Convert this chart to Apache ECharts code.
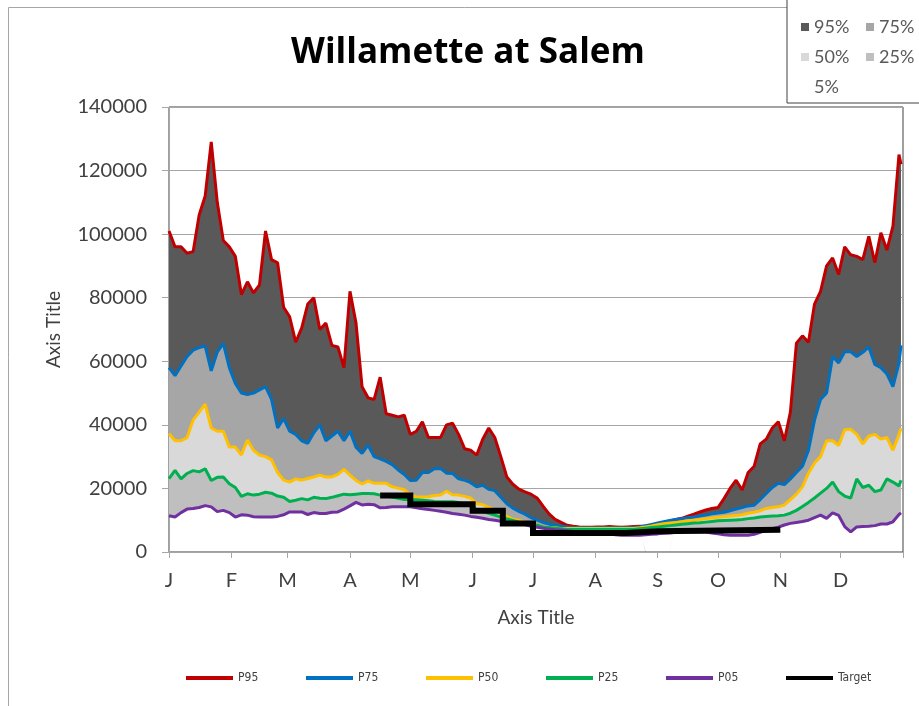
<!DOCTYPE html>
<html>
<head>
<meta charset="utf-8">
<script src="https://cdn.jsdelivr.net/npm/echarts@6/dist/echarts.min.js"></script>
<style>html,body{margin:0;padding:0;background:#fff}#c{width:919px;height:706px}</style>
</head>
<body>
<div id="c"></div>
<script>
// Day of year (0 = Jan 1) for each sample
const days = [0,3,6,9,12,15,18,21,24,27,30,33,36,39,42,45,48,51,54,57,60,63,66,69,72,75,78,81,84,87,90,93,96,99,102,105,108,111,114,117,
120,123,126,129,132,135,138,141,144,147,150,153,156,159,162,165,168,171,174,177,180,183,186,189,192,195,198,201,204,207,210,213,216,219,222,225,228,231,
234,237,240,243,246,249,252,255,258,261,264,267,270,273,
276,279,282,285,288,291,294,297,300,303,306,309,312,315,318,321,324,327,330,333,336,339,342,345,348,351,354,357,360,363,364];

const p95 = [101000,96000,96000,94000,94500,106000,112000,129000,110000,98000,96000,93000,81000,85000,81500,84000,101000,92000,91000,77000,74000,66000,70500,78000,80000,70000,72000,65000,64500,58000,82000,72000,52000,48500,48000,55000,43500,43000,42500,43000,
37000,38000,41000,36000,36000,36000,40000,40500,37000,32500,32000,30500,35500,39000,36000,30000,23600,21300,19800,18900,18200,17000,14400,12000,10300,9300,8400,8100,7900,7800,7800,7900,7900,8000,7900,7800,7900,8000,
8100,8100,8400,8900,9300,9800,10200,10600,11300,11900,12600,13200,13700,14000,
16800,20000,22600,19500,25000,27000,34000,35500,39000,41000,35000,44000,65700,68000,66000,78000,82000,90000,92500,87300,96000,93500,93000,92000,99300,91000,100400,95000,102500,125000,122000];

const p75 = [58000,55500,58500,61500,63500,64300,64800,57000,62900,65600,58000,53000,50000,49500,50000,51000,52000,48000,39000,42000,38000,37000,35000,34200,37500,40000,35000,36500,38000,35000,38000,33000,31000,33600,30000,29300,28500,27500,25800,24400,
22500,22600,25000,25000,26200,26300,24800,24700,23000,22600,21800,20500,21000,19700,19300,17200,15200,13800,12800,11900,10800,10000,9300,8800,8300,8100,7900,7700,7700,7700,7700,7700,7700,7700,7700,7700,7700,7800,
7900,8300,8700,9100,9500,9900,10200,10500,10800,11000,11300,11600,12000,12300,
12500,13000,13500,14000,14500,14700,16500,18400,20300,21600,21200,23000,25000,27000,32000,41500,48000,50000,61500,59500,63000,63000,61500,62800,64500,59000,58000,56000,52000,59400,65000];

const p50 = [37300,35000,35000,36000,41500,44000,46500,39000,38000,38000,33000,33000,30500,35200,32000,30500,30000,29000,25000,22600,22000,23000,22600,23100,23600,24200,23600,23600,24400,26000,24200,22500,21400,22400,21600,21600,21600,20500,20100,19600,
18000,17300,17300,17400,17800,17900,19100,18000,17900,17500,17000,15200,14900,14000,13300,12200,11200,10300,9900,9400,8900,8400,7900,7700,7600,7400,7400,7400,7400,7400,7400,7400,7400,7400,7400,7400,7400,7400,
7600,7900,8200,8600,8900,9100,9300,9500,9800,10000,10200,10500,10700,10900,
11100,11300,11500,11700,12200,12500,13000,13700,14000,14200,14800,16500,18200,20500,24800,28000,30000,35000,35000,33500,38500,38600,37000,34000,36500,37000,35500,36000,32000,37000,38900];

const p25 = [23100,25700,23000,24700,25600,25200,26200,22500,23500,23600,21500,20300,17500,18300,17900,18200,18800,18500,17600,17200,15900,16300,16800,16400,17200,16900,16800,17200,17700,18200,18000,18200,18400,18400,18300,17900,17500,17300,16900,16500,
16600,16400,16300,16100,15900,15800,15800,15800,15600,15100,14800,13300,12700,12200,11600,11000,10400,9900,9400,9000,8600,8400,7900,7700,7500,7300,7100,7100,7100,7100,7100,7100,7100,7100,7100,7100,7100,7100,
7300,7500,7700,7900,8100,8300,8500,8700,8900,9100,9200,9400,9600,9800,
9900,10000,10100,10200,10500,10700,11000,11200,11300,11400,11600,12200,13100,14300,15600,17000,18500,20000,22000,19000,17600,17000,23000,20300,21000,19000,19500,23000,22000,20800,22600];

const p05 = [11400,11000,12400,13500,13700,14000,14600,14200,12700,13100,12400,11000,11700,11600,11100,11000,11000,11000,11200,11700,12600,12600,12600,11800,12400,12100,12100,12500,12600,13500,14500,15600,14800,15000,14900,13900,14000,14200,14200,14200,
14200,13900,13600,13400,13100,12800,12500,12100,11900,11600,11200,10900,10600,10200,10000,9700,9400,9100,8900,8600,8100,7800,7500,7200,7000,6900,6700,6500,6400,6300,6200,6100,6000,5800,5400,5300,5300,5300,
5300,5400,5600,5700,5900,6000,6200,6300,6300,6300,6300,6300,6000,5700,
5400,5300,5300,5300,5300,5600,6200,6800,7300,7800,8500,9000,9300,9600,10000,10800,11600,10600,12300,11500,8000,6300,7900,8000,8100,8300,8800,8800,9500,11800,12300];

// Flow target (step function, each value holds until the next change day)
const targetDays = [105,120,151,166,181,212,227,243,304];
const targetFlow = [17800,15000,13000,9000,6000,6000,6500,7000,7000];

const monthStarts = [0,31,59,90,120,151,181,212,243,273,304,334];
const monthLabels = ['J','F','M','A','M','J','J','A','S','O','N','D'];
const yTicks = [0,20000,40000,60000,80000,100000,120000,140000];

const bandNames = ['5%','25%','50%','75%','95%'];          // stacking order, bottom to top
const bandLegend = ['95%','75%','50%','25%','5%'];         // legend order
const lineNames = ['P95','P75','P50','P25','P05','Target'];

// ---- build ----
const FONT = 'Lato, "Open Sans", sans-serif';
const bandColors = ['rgba(0,0,0,0)','#bfbfbf','#d9d9d9','#a6a6a6','#595959'];
const lineColors = ['#c00000','#0070c0','#ffc000','#00b050','#7030a0','#000000'];
function diff(a,b){ return a.map((v,i)=>v-b[i]); }
const bandData = [p05, diff(p25,p05), diff(p50,p25), diff(p75,p50), diff(p95,p75)];
const lineData = [p95,p75,p50,p25,p05];

const series = [];
bandNames.forEach((name,i)=>{
  series.push({
    name, type:'line', stack:'bands', symbol:'none', silent:true, z:1,
    data: days.map((d,j)=>[bandData[i][j], d]),   // [y, x] so y is the stacked dim
    encode:{x:1, y:0},
    lineStyle:{width:0},
    itemStyle:{color: bandColors[i]},
    areaStyle:{color: bandColors[i], opacity:1}
  });
});
lineData.forEach((arr,i)=>{
  series.push({
    name: lineNames[i], type:'line', symbol:'none', silent:true, z:3,
    data: days.map((d,j)=>[d, arr[j]]),
    itemStyle:{color: lineColors[i]},
    lineStyle:{color: lineColors[i], width:3}
  });
});
series.push({
  name:'Target', type:'line', symbol:'none', silent:true, z:4, step:'end',
  data: targetDays.map((d,j)=>[d, targetFlow[j]]),
  itemStyle:{color:'#000'},
  lineStyle:{color:'#000', width:6, cap:'butt', join:'miter'}
});

const chart = echarts.init(document.getElementById('c'), null, {renderer:'canvas'});
chart.setOption({
  animation:false,
  backgroundColor:'#fff',
  textStyle:{fontFamily:FONT},
  graphic:[{type:'rect', z:0, silent:true, shape:{x:8.5,y:7.5,width:1200,height:1200}, style:{fill:'none', stroke:'#a6a6a6', lineWidth:1}}],
  title:{text:'Willamette at Salem', left:468, top:36, textAlign:'center', padding:0,
    textStyle:{fontFamily:'"Open Sans", Lato, sans-serif', fontWeight:'bold', fontSize:35, color:'#000'}},
  legend:[
    {data: bandLegend, left:787, top:-1, orient:'horizontal', width:120,
     padding:[18,20,6,14], itemGap:10, itemWidth:8, itemHeight:8, icon:'rect',
     backgroundColor:'#fff', borderColor:'#404040', borderWidth:1, selectedMode:false, z:10,
     formatter:'{a|{name}}',
     textStyle:{fontFamily:FONT, fontSize:18, color:'#595959',
       rich:{a:{fontFamily:FONT, fontSize:18, color:'#595959', width:42, height:20, lineHeight:20}}}},
    {data: lineNames, left:186, top:671, orient:'horizontal', padding:0, itemGap:0,
     itemWidth:47, itemHeight:4, icon:'rect', selectedMode:false,
     formatter:'{a|{name}}',
     textStyle:{fontSize:12, color:'#404040',
       rich:{a:{fontFamily:'"DejaVu Sans Condensed", "Liberation Sans Narrow", sans-serif', fontSize:12, color:'#404040', width:68, height:14, lineHeight:14}}}}
  ],
  grid:{left:169, right:16, top:107, bottom:154, containLabel:false, outerBoundsMode:'none',
    show:true, borderColor:'#404040', borderWidth:1, backgroundColor:'transparent'},
  xAxis:{type:'value', min:0, max:365,
    name:'Axis Title', nameLocation:'middle', nameGap:56,
    nameTextStyle:{fontFamily:FONT, fontSize:19, color:'#404040'},
    axisLine:{show:true, onZero:false, lineStyle:{color:'#a6a6a6', width:1}},
    axisTick:{show:true, customValues: monthStarts.concat([365]), length:6, lineStyle:{color:'#a6a6a6'}},
    axisLabel:{customValues: monthStarts, margin:19, fontSize:20, color:'#404040', fontFamily:FONT,
      formatter:(v)=>monthLabels[monthStarts.indexOf(v)]},
    splitLine:{show:false}},
  yAxis:{type:'value', min:0, max:140000, interval:20000,
    name:'Axis Title', nameLocation:'middle', nameGap:106, nameRotate:90,
    nameTextStyle:{fontFamily:FONT, fontSize:19, color:'#404040'},
    axisLine:{show:true, lineStyle:{color:'#a6a6a6', width:1}},
    axisTick:{show:true, length:7, lineStyle:{color:'#a6a6a6'}},
    axisLabel:{margin:22, fontSize:20, color:'#404040', fontFamily:FONT,
      customValues: yTicks, formatter:(v)=>String(v)},
    splitLine:{show:true, lineStyle:{color:'#a6a6a6', width:1}}},
  series
});
</script>
</body>
</html>
